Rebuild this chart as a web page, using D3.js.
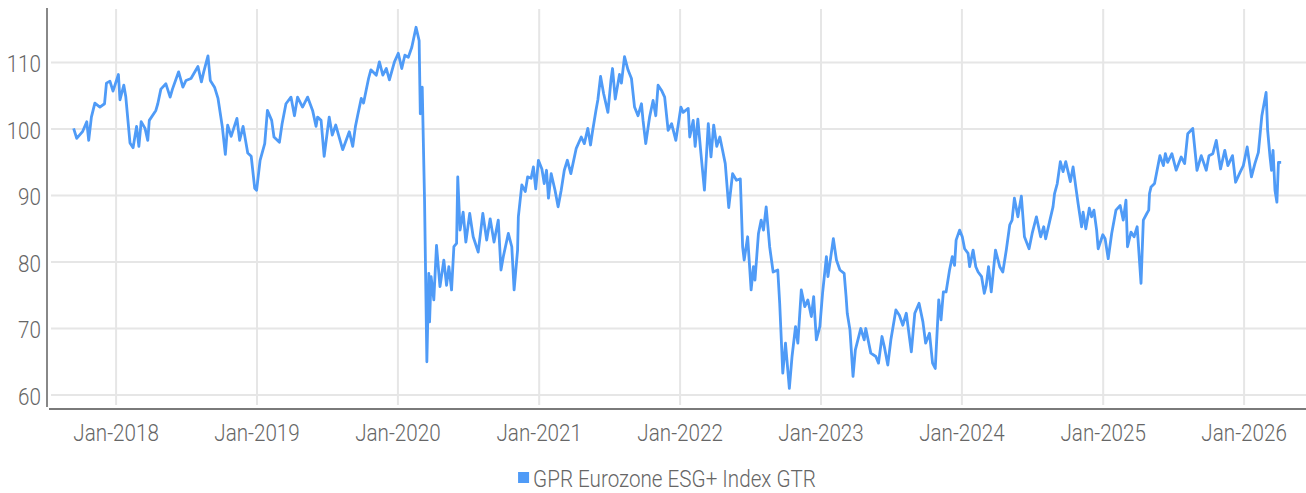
<!DOCTYPE html>
<meta charset="utf-8">

<head>
    <script src="https://d3js.org/d3.v7.min.js"></script>
</head>

<body style="margin: 0;">
    <div id="svg_div" style="width: 1306px; height: 493px;"></div>
</body>

<style>
    text {
        font-family: Roboto, "Noto Sans", sans-serif;
        font-weight: 300;
        fill: #666666;
    }
</style>
<script>

    // GPR Eurozone ESG+ Index GTR
    var dates = [
        "2017-09-13", "2017-09-21", "2017-10-06", "2017-10-17", "2017-10-22", "2017-10-29", "2017-11-07", "2017-11-20",
        "2017-12-02", "2017-12-07", "2017-12-16", "2017-12-24",
        "2018-01-07", "2018-01-11", "2018-01-21", "2018-01-26", "2018-02-06", "2018-02-14", "2018-02-23", "2018-03-01",
        "2018-03-07", "2018-03-17", "2018-03-24", "2018-03-28", "2018-04-14", "2018-04-19", "2018-04-27", "2018-05-10",
        "2018-05-21", "2018-05-27", "2018-06-12", "2018-06-23", "2018-07-01", "2018-07-14", "2018-08-01", "2018-08-10",
        "2018-08-16", "2018-08-27", "2018-09-02", "2018-09-13", "2018-09-22", "2018-10-03", "2018-10-11", "2018-10-17",
        "2018-10-26", "2018-11-10", "2018-11-17", "2018-11-26", "2018-12-08", "2018-12-17", "2018-12-26", "2018-12-31",
        "2019-01-09", "2019-01-21", "2019-01-28", "2019-02-08", "2019-02-14", "2019-02-28", "2019-03-07", "2019-03-17",
        "2019-03-30", "2019-04-08", "2019-04-16", "2019-04-29", "2019-05-12", "2019-05-25", "2019-06-03", "2019-06-07",
        "2019-06-16", "2019-06-24", "2019-07-07", "2019-07-15", "2019-07-24", "2019-08-11", "2019-08-28", "2019-09-06",
        "2019-09-13", "2019-09-19", "2019-09-28", "2019-10-04", "2019-10-11", "2019-10-17", "2019-10-23", "2019-11-06",
        "2019-11-14", "2019-11-23", "2019-12-02", "2019-12-10", "2019-12-23",
        "2020-01-02", "2020-01-11", "2020-01-19", "2020-01-28", "2020-02-06", "2020-02-17", "2020-02-25", "2020-02-28",
        "2020-03-04", "2020-03-10", "2020-03-16", "2020-03-21", "2020-03-23", "2020-03-27", "2020-04-03", "2020-04-10",
        "2020-04-19", "2020-04-29", "2020-05-06", "2020-05-12", "2020-05-19", "2020-05-25", "2020-06-01", "2020-06-04",
        "2020-06-10", "2020-06-18", "2020-06-25", "2020-07-05", "2020-07-14", "2020-07-27", "2020-08-08", "2020-08-18",
        "2020-08-27", "2020-09-06", "2020-09-17", "2020-09-24", "2020-09-30", "2020-10-13", "2020-10-22", "2020-10-28",
        "2020-11-06", "2020-11-08", "2020-11-17", "2020-11-26", "2020-12-02", "2020-12-11", "2020-12-17", "2020-12-23",
        "2020-12-30",
        "2021-01-08", "2021-01-14", "2021-01-20", "2021-01-25", "2021-02-01", "2021-02-11", "2021-02-19", "2021-02-27",
        "2021-03-07", "2021-03-15", "2021-03-24", "2021-04-07", "2021-04-20", "2021-04-28", "2021-05-07", "2021-05-14",
        "2021-05-19", "2021-05-28", "2021-06-02", "2021-06-09", "2021-06-17", "2021-06-28", "2021-07-06", "2021-07-10",
        "2021-07-17", "2021-07-28", "2021-08-02", "2021-08-10", "2021-08-19", "2021-08-28", "2021-09-05", "2021-09-14",
        "2021-09-23", "2021-09-27", "2021-10-04", "2021-10-14", "2021-10-23", "2021-10-30", "2021-11-05", "2021-11-14",
        "2021-11-22", "2021-12-01", "2021-12-10", "2021-12-21",
        "2022-01-03", "2022-01-09", "2022-01-22", "2022-01-26", "2022-02-04", "2022-02-09", "2022-02-16", "2022-02-24",
        "2022-03-05", "2022-03-15", "2022-03-22", "2022-03-29", "2022-04-06", "2022-04-14", "2022-04-21", "2022-04-28",
        "2022-05-07", "2022-05-17", "2022-05-27", "2022-06-06", "2022-06-12", "2022-06-16", "2022-06-25", "2022-07-04",
        "2022-07-10", "2022-07-14", "2022-07-23", "2022-07-30", "2022-08-05", "2022-08-12", "2022-08-21", "2022-08-30",
        "2022-09-11", "2022-09-16", "2022-09-24", "2022-10-01", "2022-10-11", "2022-10-18", "2022-10-27", "2022-11-02",
        "2022-11-11", "2022-11-20", "2022-11-28", "2022-12-07", "2022-12-13", "2022-12-20", "2022-12-29",
        "2023-01-05", "2023-01-15", "2023-01-19", "2023-02-02", "2023-02-10", "2023-02-19", "2023-03-02", "2023-03-07",
        "2023-03-10", "2023-03-17", "2023-03-25", "2023-03-31", "2023-04-14", "2023-04-23", "2023-04-27", "2023-05-10",
        "2023-05-23", "2023-05-30", "2023-06-08", "2023-06-14", "2023-06-23", "2023-07-01", "2023-07-14", "2023-07-23",
        "2023-08-01", "2023-08-10", "2023-08-23", "2023-09-01", "2023-09-12", "2023-09-22", "2023-09-29", "2023-10-09",
        "2023-10-17", "2023-10-24", "2023-11-02", "2023-11-08", "2023-11-14", "2023-11-21", "2023-11-30", "2023-12-07",
        "2023-12-13", "2023-12-17", "2023-12-26",
        "2024-01-02", "2024-01-08", "2024-01-17", "2024-01-21", "2024-01-30", "2024-02-06", "2024-02-12", "2024-02-21",
        "2024-02-28", "2024-03-04", "2024-03-10", "2024-03-17", "2024-03-28", "2024-04-08", "2024-04-16", "2024-04-25",
        "2024-05-04", "2024-05-10", "2024-05-16", "2024-05-25", "2024-06-03", "2024-06-11", "2024-06-23", "2024-07-01",
        "2024-07-12", "2024-07-23", "2024-07-31", "2024-08-05", "2024-08-16", "2024-08-24", "2024-08-28", "2024-09-04",
        "2024-09-12", "2024-09-19", "2024-09-26", "2024-10-02", "2024-10-08", "2024-10-15", "2024-10-22", "2024-10-28",
        "2024-11-06", "2024-11-10", "2024-11-17", "2024-11-26", "2024-12-02", "2024-12-08", "2024-12-15", "2024-12-19",
        "2024-12-31",
        "2025-01-06", "2025-01-14", "2025-01-23", "2025-02-03", "2025-02-14", "2025-02-22", "2025-03-01", "2025-03-05",
        "2025-03-14", "2025-03-22", "2025-03-30", "2025-04-09", "2025-04-15", "2025-04-24", "2025-04-29", "2025-05-01",
        "2025-05-05", "2025-05-14", "2025-05-19", "2025-05-28", "2025-06-06", "2025-06-11", "2025-06-17", "2025-06-28",
        "2025-07-09", "2025-07-22", "2025-07-31", "2025-08-08", "2025-08-21", "2025-09-01", "2025-09-12", "2025-09-25",
        "2025-10-02", "2025-10-12", "2025-10-21", "2025-11-01", "2025-11-12", "2025-11-20", "2025-12-02", "2025-12-10",
        "2025-12-20", "2025-12-30",
        "2026-01-09", "2026-01-20", "2026-01-29", "2026-02-07", "2026-02-16", "2026-02-27", "2026-03-03", "2026-03-09",
        "2026-03-13", "2026-03-17", "2026-03-22", "2026-03-27", "2026-03-31", "2026-04-07"
    ];

    var values = [
        100.1, 98.6, 99.6, 101.1, 98.3, 101.8, 103.9, 103.3,
        103.8, 106.9, 107.2, 105.7,
        108.2, 104.4, 106.6, 104.9, 97.9, 97.2, 100.4, 97.4,
        101.1, 100.1, 98.3, 101.3, 102.8, 103.8, 106.0, 106.8,
        104.8, 106.0, 108.6, 106.3, 107.3, 107.6, 109.4, 107.1,
        108.6, 111.0, 107.3, 106.3, 104.6, 100.4, 96.2, 100.6,
        98.9, 101.6, 98.3, 100.4, 96.4, 95.9, 91.1, 90.8,
        95.3, 97.8, 102.8, 101.3, 98.8, 98.0, 100.8, 103.8,
        104.8, 102.0, 104.8, 103.3, 104.8, 102.8, 100.4, 101.8,
        101.3, 95.9, 101.8, 99.1, 100.6, 96.9, 99.6, 97.4,
        100.4, 102.1, 104.6, 103.9, 105.9, 107.6, 108.9, 108.1,
        110.1, 108.1, 109.1, 107.4, 110.1,
        111.4, 109.1, 111.1, 110.8, 112.3, 115.3, 113.3, 102.3,
        106.3, 89.3, 65.0, 78.3, 71.0, 77.8, 74.3, 82.5,
        76.3, 80.3, 76.5, 79.3, 75.8, 82.3, 82.8, 92.8,
        84.8, 87.5, 83.0, 87.3, 83.8, 81.5, 87.3, 83.3,
        86.5, 83.0, 86.3, 78.8, 80.8, 84.3, 82.3, 75.8,
        81.8, 86.8, 91.6, 90.6, 92.8, 92.6, 94.3, 91.0,
        95.3,
        94.0, 91.8, 93.8, 89.6, 93.3, 90.8, 88.3, 90.8,
        93.8, 95.3, 93.3, 97.1, 98.8, 97.8, 100.1, 97.6,
        99.6, 102.8, 104.4, 107.9, 105.3, 102.5, 107.4, 109.1,
        104.5, 108.2, 106.9, 110.9, 108.9, 107.6, 103.3, 102.0,
        103.8, 101.3, 97.8, 101.8, 104.3, 102.0, 106.6, 105.8,
        104.8, 99.8, 100.8, 98.3,
        103.3, 102.5, 103.1, 98.8, 101.3, 97.4, 101.5, 96.3,
        90.8, 100.8, 95.8, 100.6, 97.4, 98.8, 96.8, 94.8,
        88.2, 93.3, 92.3, 92.5, 82.3, 80.3, 83.8, 75.8,
        79.3, 77.3, 84.3, 86.3, 84.8, 88.3, 82.3, 78.5,
        78.8, 73.8, 63.3, 67.8, 61.0, 65.8, 70.3, 67.8,
        75.8, 73.3, 74.3, 71.8, 74.8, 68.3, 70.3,
        75.3, 80.8, 77.8, 83.5, 80.3, 78.8, 78.3, 74.8,
        72.3, 69.8, 62.8, 66.8, 70.0, 68.3, 70.0, 66.3,
        65.8, 64.8, 68.8, 67.3, 64.5, 68.3, 72.8, 72.0,
        70.5, 72.3, 66.5, 72.3, 73.8, 71.0, 67.8, 69.3,
        64.8, 64.0, 74.3, 71.3, 75.5, 75.5, 78.8, 80.8,
        79.5, 83.3, 84.8,
        83.8, 82.0, 81.3, 79.3, 81.8, 79.3, 78.5, 77.8,
        75.3, 76.5, 79.3, 75.5, 81.8, 79.3, 78.5, 81.8,
        85.6, 86.3, 89.6, 86.8, 89.9, 83.8, 82.0, 84.3,
        86.8, 83.8, 85.3, 83.5, 86.3, 88.3, 90.3, 91.8,
        95.1, 93.6, 95.1, 93.6, 92.1, 94.3, 91.3, 88.8,
        85.3, 87.5, 85.0, 88.1, 86.8, 87.8, 84.8, 82.0,
        84.1,
        83.5, 80.5, 84.3, 87.8, 88.5, 86.3, 89.3, 82.3,
        84.5, 83.8, 85.3, 76.8, 86.3, 87.3, 87.8, 90.3,
        91.3, 91.8, 93.3, 96.0, 94.5, 96.3, 95.0, 96.3,
        93.8, 95.8, 94.8, 99.3, 100.1, 93.8, 96.0, 93.8,
        96.0, 96.3, 98.3, 94.0, 96.8, 94.5, 96.0, 92.0,
        93.3, 94.5,
        97.3, 92.8, 94.8, 96.5, 102.0, 105.5, 99.8, 95.9,
        93.8, 96.8, 90.8, 89.0, 95.0, 95.0
    ];

    var y_ticks = [60, 70, 80, 90, 100, 110];
    var series_name = "GPR Eurozone ESG+ Index GTR";

    var line_color = "#4f9bf7";

    function draw_chart() {
        let width = 1306, height = 493;
        let text_squeeze = 0.86;

        let svg = d3.select("#svg_div").append("svg")
            .attr("width", width)
            .attr("height", height);

        let parse = d3.timeParse("%Y-%m-%d");
        let data = dates.map((d, i) => ({ date: parse(d), value: values[i] }));

        let x = d3.scaleTime()
            .domain([parse("2017-07-06"), parse("2026-05-31")])
            .range([47, 1302]);
        let y = d3.scaleLinear()
            .domain([57.9, 118.2])
            .range([409, 8]);

        let x_ticks = x.ticks(d3.timeYear.every(1));

        // grid
        let grid = svg.append("g");
        grid.selectAll(".hgrid")
            .data(y_ticks)
            .enter().append("line")
            .attr("x1", 51).attr("x2", width)
            .attr("y1", d => y(d)).attr("y2", d => y(d))
            .attr("stroke", "#e6e6e6")
            .attr("stroke-width", 2);
        grid.selectAll(".vgrid")
            .data(x_ticks)
            .enter().append("line")
            .attr("x1", d => x(d)).attr("x2", d => x(d))
            .attr("y1", 9).attr("y2", 405)
            .attr("stroke", "#e6e6e6")
            .attr("stroke-width", 2);

        // axis lines
        svg.append("line")
            .attr("x1", 47).attr("x2", 47).attr("y1", 8).attr("y2", 407)
            .attr("stroke", "#888888").attr("stroke-width", 2);
        svg.append("line")
            .attr("x1", 49).attr("x2", width).attr("y1", 409).attr("y2", 409)
            .attr("stroke", "#7a7a7a").attr("stroke-width", 2);

        // y labels
        svg.append("g").selectAll("g")
            .data(y_ticks)
            .enter().append("g")
            .attr("transform", d => "translate(41," + y(d) + ")")
            .append("text")
            .attr("transform", "scale(" + text_squeeze + ",1)")
            .attr("text-anchor", "end")
            .attr("dy", "0.4em")
            .style("font-size", "24px")
            .text(d => d);

        // x labels
        let fmt = d3.timeFormat("%b-%Y");
        svg.append("g").selectAll("g")
            .data(x_ticks)
            .enter().append("g")
            .attr("transform", d => "translate(" + x(d) + ",441)")
            .append("text")
            .attr("transform", "scale(" + text_squeeze + ",1)")
            .attr("text-anchor", "middle")
            .style("font-size", "24px")
            .text(d => fmt(d));

        // line
        let line = d3.line()
            .x(d => x(d.date))
            .y(d => y(d.value));
        svg.append("path")
            .datum(data)
            .attr("fill", "none")
            .attr("stroke", line_color)
            .attr("stroke-width", 2.8)
            .attr("stroke-linejoin", "round")
            .attr("d", line);

        // legend
        let legend = svg.append("g");
        legend.append("rect")
            .attr("x", 0).attr("y", -15)
            .attr("width", 11).attr("height", 11)
            .attr("fill", line_color);
        let legend_text = legend.append("g")
            .attr("transform", "translate(15,0)")
            .append("text")
            .attr("transform", "scale(" + text_squeeze + ",1)")
            .style("font-size", "24px")
            .text(series_name);
        let legend_w = 15 + legend_text.node().getComputedTextLength() * text_squeeze;
        legend.attr("transform", "translate(" + (667 - legend_w / 2) + ",487)");
    }

    draw_chart();

</script>
